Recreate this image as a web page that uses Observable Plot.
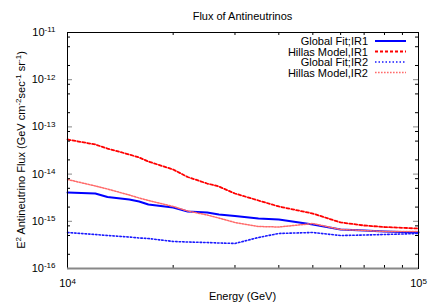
<!DOCTYPE html>
<html><head><meta charset="utf-8">
<script src="https://cdn.jsdelivr.net/npm/d3@7"></script>
<script src="https://cdn.jsdelivr.net/npm/@observablehq/plot@0.6"></script>
<style>html,body{margin:0;padding:0;background:#fff} svg{display:block}</style>
</head><body><div id="chart"></div>
<script>
// ---- data ----
const energy = [10000, 12000, 13000, 15000, 16000, 17000, 20000, 22000, 25000, 27000, 30000, 35000, 40000, 50000, 60000, 70000, 80000, 100000];
const globalFitIR1 = [4.07e-15, 3.88e-15, 3.27e-15, 2.90e-15, 2.63e-15, 2.27e-15, 1.96e-15, 1.61e-15, 1.54e-15, 1.39e-15, 1.29e-15, 1.15e-15, 1.09e-15, 8.55e-16, 6.70e-16, 6.38e-16, 6.08e-16, 5.79e-16];
const hillasIR1 = [5.41e-14, 4.24e-14, 3.48e-14, 2.60e-14, 2.25e-14, 1.85e-14, 1.25e-14, 8.68e-15, 6.32e-15, 5.46e-15, 3.88e-15, 2.76e-15, 2.06e-15, 1.46e-15, 9.44e-16, 8.15e-16, 7.57e-16, 7.03e-16];
const globalFitIR2 = [5.79e-16, 5.25e-16, 5.00e-16, 4.65e-16, 4.43e-16, 4.32e-16, 3.74e-16, 3.64e-16, 3.55e-16, 3.47e-16, 3.39e-16, 4.54e-16, 5.52e-16, 5.79e-16, 5.00e-16, 5.12e-16, 5.25e-16, 5.52e-16];
const hillasIR2 = [7.69e-15, 5.60e-15, 4.83e-15, 3.60e-15, 3.12e-15, 2.76e-15, 2.06e-15, 1.65e-15, 1.36e-15, 1.17e-15, 9.44e-16, 7.76e-16, 7.57e-16, 8.97e-16, 6.70e-16, 6.38e-16, 6.08e-16, 6.08e-16];
const seriesNames = ["Global Fit;IR1", "Hillas Model,IR1", "Global Fit;IR2", "Hillas Model,IR2"];
const xMajorTicks = [1e4, 1e5];
const xMinorTicks = [2e4, 3e4, 4e4, 5e4, 6e4, 7e4, 8e4, 9e4];
const yMajorTicks = [1e-16, 1e-15, 1e-14, 1e-13, 1e-12, 1e-11];
const yMinorTicks = [2e-16, 5e-16, 8e-16, 2e-15, 5e-15, 8e-15, 2e-14, 5e-14, 8e-14, 2e-13, 5e-13, 8e-13, 2e-12, 5e-12, 8e-12];
const titleText = "Flux of Antineutrinos";
const xLabelText = "Energy (GeV)";
const yLabelParts = [["E", 0], ["2", 1], [" Antineutrino Flux (GeV cm", 0], ["-2", 1], ["sec", 0], ["-1", 1], [" sr", 0], ["-1", 1], [")", 0]];

// ---- styles ----
const seriesValues = [globalFitIR1, hillasIR1, globalFitIR2, hillasIR2];
const seriesStyle = [
  {stroke: "#0000ff", strokeWidth: 2, strokeDasharray: null},
  {stroke: "#ff0000", strokeWidth: 1.8, strokeDasharray: "3,2"},
  {stroke: "#1a1aff", strokeWidth: 1.6, strokeDasharray: "1.5,2"},
  {stroke: "#ff6a6a", strokeWidth: 1.5, strokeDasharray: "1.6,1.4"}
];
const rows = seriesNames.flatMap((name, i) => energy.map((e, j) => ({series: name, energy: e, flux: seriesValues[i][j]})));

const W = 435, H = 305, mT = 32, mB = 37, mL = 67, mR = 17;
const iw = W - mL - mR, ih = H - mT - mB;
const supFmt = d => "10^" + Math.round(Math.log10(d));
const font = "'Liberation Sans', Arial, Helvetica, sans-serif";

const plot = Plot.plot({
  width: W, height: H,
  marginTop: mT, marginBottom: mB, marginLeft: mL, marginRight: mR,
  x: {type: "log", domain: [1e4, 1e5], label: null},
  y: {type: "log", domain: [1e-16, 1e-11], label: null},
  style: {fontFamily: font, fontSize: "11px", background: "white", color: "black"},
  marks: [
    ...seriesNames.map((name, i) => Plot.line(rows.filter(r => r.series === name), {
      x: "energy", y: "flux", ...seriesStyle[i], strokeLinejoin: "round"
    })),
    // minor ticks (inward, mirrored)
    Plot.tickX(xMinorTicks, {x: d => d, insetTop: ih - 3, stroke: "black"}),
    Plot.tickX(xMinorTicks, {x: d => d, insetBottom: ih - 3, stroke: "black"}),
    Plot.tickY(yMinorTicks, {y: d => d, insetRight: iw - 3, stroke: "black"}),
    Plot.tickY(yMinorTicks, {y: d => d, insetLeft: iw - 3, stroke: "black"}),
    Plot.tickY(yMajorTicks, {y: d => d, insetRight: iw - 5, stroke: "#888"}),
    Plot.tickY(yMajorTicks, {y: d => d, insetLeft: iw - 5, stroke: "#888"}),
    Plot.frame({stroke: "black"}),
    Plot.ruleY([1e-16], {stroke: "#888", strokeWidth: 2}),
    Plot.axisX(xMajorTicks, {tickSize: 0, tickPadding: 11, tickFormat: supFmt, label: null, fontSize: 11}),
    Plot.axisY(yMajorTicks, {tickSize: 0, tickPadding: 12, tickFormat: supFmt, label: null, fontSize: 11})
  ]
});

const svg = d3.select(plot);
svg.selectAll('g[aria-label="x-axis tick label"] text, g[aria-label="y-axis tick label"] text').each(function () {
  const t = d3.select(this);
  const s = t.text();
  if (!s.includes("^")) return;
  const [b, e] = s.split("^");
  t.text(b);
  t.append("tspan").attr("dy", "-0.45em").attr("font-size", "8px").text(e);
});

// title
svg.append("text").attr("x", mL + iw / 2).attr("y", 20).attr("text-anchor", "middle")
  .attr("font-family", font).attr("font-size", 11).text(titleText);
// x label
svg.append("text").attr("x", mL + iw / 2).attr("y", 300).attr("text-anchor", "middle")
  .attr("font-family", font).attr("font-size", 11).text(xLabelText);
// y label
const yl = svg.append("text").attr("transform", `translate(25,${mT + ih / 2}) rotate(-90)`)
  .attr("text-anchor", "middle").attr("font-family", font).attr("font-size", 11);
let raised = false;
yLabelParts.forEach(([s, sup]) => {
  const ts = yl.append("tspan").text(s);
  if (sup && !raised) { ts.attr("dy", -4.5).attr("font-size", 8); raised = true; }
  else if (sup) { ts.attr("font-size", 8); }
  else if (raised) { ts.attr("dy", 4.5); raised = false; }
});
// legend
const legY = [41, 51.5, 62, 72.5];
seriesNames.forEach((name, i) => {
  svg.append("text").attr("x", 368).attr("y", legY[i] + 4).attr("text-anchor", "end")
    .attr("font-family", font).attr("font-size", 11).text(name);
  const st = seriesStyle[i];
  svg.append("line").attr("x1", 375).attr("x2", 406).attr("y1", legY[i]).attr("y2", legY[i])
    .attr("stroke", st.stroke).attr("stroke-width", st.strokeWidth)
    .attr("stroke-dasharray", st.strokeDasharray);
});

document.getElementById("chart").appendChild(plot);
</script>
</body></html>
